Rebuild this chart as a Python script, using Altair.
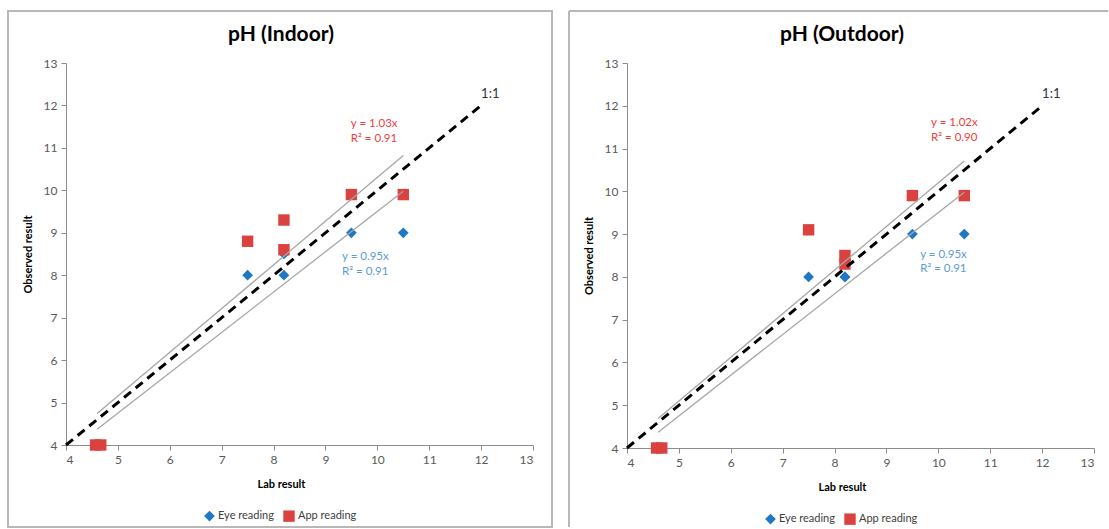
import altair as alt
import pandas as pd

# ---------------- data ----------------
series_names = ["Eye reading", "App reading"]
tick_vals = [4, 5, 6, 7, 8, 9, 10, 11, 12, 13]

# Indoor
in_eye_x = [4.6, 7.5, 8.2, 8.2, 9.5, 10.5]
in_eye_y = [4.0, 8.0, 8.0, 8.5, 9.0, 9.0]
in_app_x = [4.57, 4.67, 7.5, 8.2, 8.2, 9.5, 10.5]
in_app_y = [4.0, 4.0, 8.8, 9.3, 8.6, 9.9, 9.9]
in_trend_x = [4.6, 10.5]
in_trend_app_y = [4.74, 10.82]
in_trend_eye_y = [4.37, 9.98]
in_app_label = ["y = 1.03x", "R² = 0.91"]
in_eye_label = ["y = 0.95x", "R² = 0.91"]
in_app_label_x = [9.49, 9.49]
in_app_label_y = [11.56, 11.2]
in_eye_label_x = [9.32, 9.32]
in_eye_label_y = [8.42, 8.08]

# Outdoor
out_eye_x = [4.6, 7.5, 8.2, 8.2, 9.5, 10.5]
out_eye_y = [4.0, 8.0, 8.0, 8.0, 9.0, 9.0]
out_app_x = [4.57, 4.67, 7.5, 8.2, 8.2, 9.5, 10.5]
out_app_y = [4.0, 4.0, 9.1, 8.5, 8.3, 9.9, 9.9]
out_trend_x = [4.6, 10.5]
out_trend_app_y = [4.69, 10.71]
out_trend_eye_y = [4.37, 9.98]
out_app_label = ["y = 1.02x", "R² = 0.90"]
out_eye_label = ["y = 0.95x", "R² = 0.91"]
out_app_label_x = [9.86, 9.86]
out_app_label_y = [11.6, 11.25]
out_eye_label_x = [9.65, 9.65]
out_eye_label_y = [8.52, 8.18]

one_to_one_x = [4, 12]
one_to_one_y = [4, 12]
one_to_one_label_x = [12.0]
one_to_one_label_y = [12.28]

BLUE = "#1f78c4"
RED = "#d9423e"
RED_TXT = "#f23c3c"
BLUE_TXT = "#5b9bd5"
FONT = "Lato"
BORDER = "#b8b8b8"


def panel(title, eye_x, eye_y, app_x, app_y, tr_x, tr_app, tr_eye,
          app_lab, app_lx, app_ly, eye_lab, eye_lx, eye_ly, height, left):
    pts = pd.DataFrame(
        {"lab": list(eye_x) + list(app_x),
         "obs": list(eye_y) + list(app_y),
         "series": [series_names[0]] * len(eye_x) + [series_names[1]] * len(app_x)}
    )
    xs = alt.Scale(domain=[4, 13], nice=False, zero=False)
    ys = alt.Scale(domain=[4, 13], nice=False, zero=False)
    xax = alt.Axis(values=tick_vals, title="Lab result", titleX=215, titleY=33)
    yax = alt.Axis(values=tick_vals, title="Observed result", titleX=-38,
                   titleY=height / 2, titleBaseline="middle", titleAlign="center")

    leg = alt.Legend(title=None, orient="none", direction="horizontal",
                     legendX=138, legendY=height + 65, columnPadding=9, padding=0,
                     symbolStrokeWidth=0, labelOffset=3)
    points = alt.Chart(pts).mark_point(filled=True, opacity=1, strokeWidth=0).encode(
        x=alt.X("lab:Q", scale=xs, axis=xax),
        y=alt.Y("obs:Q", scale=ys, axis=yax),
        color=alt.Color("series:N", scale=alt.Scale(domain=series_names, range=[BLUE, RED]), legend=leg),
        shape=alt.Shape("series:N", scale=alt.Scale(domain=series_names, range=["diamond", "square"]), legend=leg),
        size=alt.Size("series:N", scale=alt.Scale(domain=series_names, range=[115, 130]), legend=leg),
    )

    tr = pd.DataFrame({"lab": tr_x * 2, "obs": tr_app + tr_eye, "g": ["a", "a", "e", "e"]})
    trend = alt.Chart(tr).mark_line(color="#a6a6a6", strokeWidth=1.3).encode(
        x=alt.X("lab:Q", scale=xs), y=alt.Y("obs:Q", scale=ys), detail="g:N")

    oo = pd.DataFrame({"lab": one_to_one_x, "obs": one_to_one_y})
    dashed = alt.Chart(oo).mark_line(color="black", strokeWidth=3, strokeDash=[9, 6]).encode(
        x=alt.X("lab:Q", scale=xs), y=alt.Y("obs:Q", scale=ys))

    def txt_layer(xv, yv, tv, color, size):
        df = pd.DataFrame({"lab": xv, "obs": yv, "txt": tv})
        return alt.Chart(df).mark_text(align="left", baseline="middle", font=FONT,
                                       fontSize=size, color=color).encode(
            x=alt.X("lab:Q", scale=xs), y=alt.Y("obs:Q", scale=ys), text="txt:N")

    t_app = txt_layer(app_lx, app_ly, app_lab, RED_TXT, 11.5)
    t_eye = txt_layer(eye_lx, eye_ly, eye_lab, BLUE_TXT, 11.5)
    t_11 = txt_layer(one_to_one_label_x, one_to_one_label_y, ["1:1"], "#333333", 13)

    title_df = pd.DataFrame({"t": [title]})
    title_mark = alt.Chart(title_df).mark_text(
        font=FONT, fontSize=21, fontWeight="bold", color="#000000", align="center", baseline="middle"
    ).encode(text="t:N", x=alt.value(215), y=alt.value(-28))

    deco_df = pd.DataFrame({"d": [0]})
    if left:
        border = alt.Chart(deco_df).mark_rect(fillOpacity=0, stroke=BORDER, strokeWidth=2).encode(
            x=alt.value(-58), x2=alt.value(486), y=alt.value(-52), y2=alt.value(464))
        borders = [border]
    else:
        top = alt.Chart(deco_df).mark_rule(color=BORDER, strokeWidth=2).encode(
            x=alt.value(-58), x2=alt.value(481), y=alt.value(-52))
        lft = alt.Chart(deco_df).mark_rule(color=BORDER, strokeWidth=2).encode(
            x=alt.value(-58), y=alt.value(-52), y2=alt.value(464))
        borders = [top, lft]

    ch = alt.layer(*borders, title_mark, points, trend, dashed, t_app, t_eye, t_11).properties(
        width=467, height=height,
    )
    return ch


left_chart = panel("pH (Indoor)", in_eye_x, in_eye_y, in_app_x, in_app_y, in_trend_x,
                   in_trend_app_y, in_trend_eye_y, in_app_label, in_app_label_x, in_app_label_y,
                   in_eye_label, in_eye_label_x, in_eye_label_y, 382, True)
right_chart = panel("pH (Outdoor)", out_eye_x, out_eye_y, out_app_x, out_app_y, out_trend_x,
                    out_trend_app_y, out_trend_eye_y, out_app_label, out_app_label_x, out_app_label_y,
                    out_eye_label, out_eye_label_x, out_eye_label_y, 385, False)

chart = alt.hconcat(left_chart, right_chart, spacing=15).resolve_scale(
    color="independent", shape="independent", size="independent"
).resolve_legend(color="independent", shape="independent", size="independent").properties(
    padding={"left": 7, "top": 10, "right": 0, "bottom": 0},
    background="white",
).configure_view(strokeWidth=0).configure_axis(
    grid=False, domainColor="#8c8c8c", tickColor="#8c8c8c", tickSize=5,
    labelColor="#595959", labelFont=FONT, labelFontSize=12, labelPadding=4,
    titleFont=FONT, titleFontSize=11, titleFontWeight="bold", titleColor="#000000",
).configure_legend(
    labelFont=FONT, labelFontSize=11, labelColor="#404040",
)

chart.save("out.html", embed_options={"renderer": "svg", "actions": False})
